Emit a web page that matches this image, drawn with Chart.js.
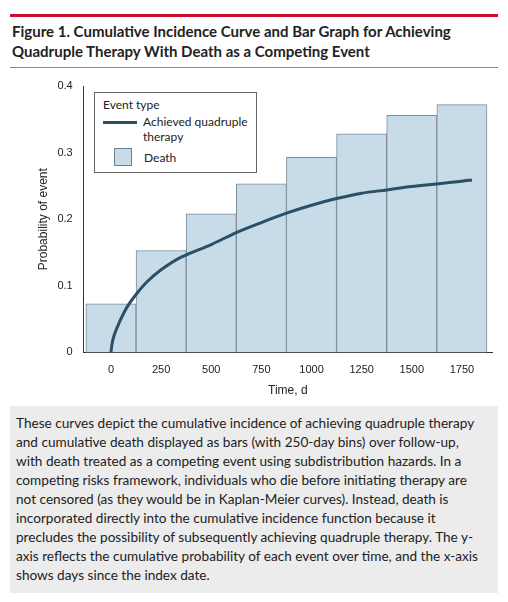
<!DOCTYPE html>
<html>
<head>
<meta charset="utf-8">
<script src="https://cdn.jsdelivr.net/npm/chart.js@4"></script>
<style>
  body { margin: 0; width: 508px; height: 602px; background: #fff; font-family: Lato, "Open Sans", sans-serif; overflow: hidden; }
  .top { height: 3px; background: #c8102e; margin: 14px 10px 0 10px; }
  h1 { font-size: 15px; font-weight: bold; line-height: 20px; margin: 4px 10px 0 12px; color: #222; }
  .rule { height: 1px; background: #888; margin: 6px 10px 0 10px; }
  #wrap { position: relative; height: 336px; margin: 0 10px; }
  #legend { position: absolute; left: 84px; top: 24px; background: #fff; border: 1px solid #666; padding: 4px 8px 6px 8px; font-size: 12px; color: #222; line-height: 15px; }
  .cap { background: #ececec; margin: 2px 10px 0 10px; padding: 8px 16px 8px 6px; font-size: 13.6px; line-height: 19px; color: #222; }
</style>
</head>
<body>
<div class="top"></div>
<h1>Figure 1. Cumulative Incidence Curve and Bar Graph for Achieving Quadruple Therapy With Death as a Competing Event</h1>
<div class="rule"></div>
<div id="wrap">
  <canvas id="grafico"></canvas>
  <div id="legend">
    <div>Event type</div>
    <div style="display:flex;align-items:flex-start;margin-top:2px">
      <span style="display:inline-block;width:34px;height:3px;background:#2a4f66;margin:7px 6px 0 0"></span>
      <span>Achieved quadruple<br>therapy</span>
    </div>
    <div style="display:flex;align-items:center;margin-top:4px">
      <span style="display:inline-block;width:16px;height:16px;background:#c8dbe9;border:1px solid #6f7f8a;margin:0 12px 0 11px"></span>
      <span>Death</span>
    </div>
  </div>
</div>
<div class="cap">These curves depict the cumulative incidence of achieving quadruple therapy and cumulative death displayed as bars (with 250-day bins) over follow-up, with death treated as a competing event using subdistribution hazards. In a competing risks framework, individuals who die before initiating therapy are not censored (as they would be in Kaplan-Meier curves). Instead, death is incorporated directly into the cumulative incidence function because it precludes the possibility of subsequently achieving quadruple therapy. The y-axis reflects the cumulative probability of each event over time, and the x-axis shows days since the index date.</div>
<script>
// datos
const dias = [0, 250, 500, 750, 1000, 1250, 1500, 1750];
const muerte = [0.073, 0.153, 0.208, 0.253, 0.293, 0.328, 0.356, 0.372];
const curvaDias = [0, 5, 15, 40, 80, 125, 180, 250, 350, 500, 625, 750, 875, 1000, 1125, 1250, 1375, 1500, 1625, 1750, 1800];
const curvaProb = [0, 0.012, 0.025, 0.044, 0.068, 0.087, 0.106, 0.124, 0.143, 0.162, 0.180, 0.195, 0.209, 0.221, 0.231, 0.239, 0.244, 0.249, 0.253, 0.257, 0.259];
const ticksY = [0, 0.1, 0.2, 0.3, 0.4];

const config = {
  data: {
    datasets: [
      {
        type: "line",
        data: curvaDias.map((d, i) => ({ x: d, y: curvaProb[i] })),
        borderColor: "#2a4f66",
        borderWidth: 3,
        pointRadius: 0,
        tension: 0.3,
        order: 0
      },
      {
        type: "bar",
        data: dias.map((d, i) => ({ x: d, y: muerte[i] })),
        backgroundColor: "#c8dbe9",
        borderColor: "#7d8d98",
        borderWidth: 1,
        barPercentage: 1,
        categoryPercentage: 1,
        order: 1
      }
    ]
  },
  options: {
    responsive: true,
    maintainAspectRatio: false,
    animation: false,
    layout: { padding: { top: 18, right: 6, left: 22, bottom: 2 } },
    plugins: { legend: { display: false }, tooltip: { enabled: false } },
    scales: {
      x: {
        type: "linear",
        offset: false,
        min: -136,
        max: 1900,
        afterBuildTicks: ax => { ax.ticks = dias.map(v => ({ value: v })); },
        grid: { display: false, drawTicks: true },
        border: { color: "#333" },
        ticks: { color: "#222", font: { size: 11 }, callback: v => String(v) },
        title: { display: true, text: "Time, d", color: "#222", font: { size: 12 } }
      },
      y: {
        min: 0,
        max: 0.4,
        afterBuildTicks: ax => { ax.ticks = ticksY.map(v => ({ value: v })); },
        grid: { display: false },
        border: { color: "#333" },
        ticks: { color: "#222", font: { size: 11 }, callback: v => v === 0 ? "0" : v.toFixed(1) },
        title: { display: true, text: "Probability of event", color: "#222", font: { size: 12 } }
      }
    }
  }
};

new Chart(document.getElementById("grafico").getContext("2d"), config);
</script>
</body>
</html>
